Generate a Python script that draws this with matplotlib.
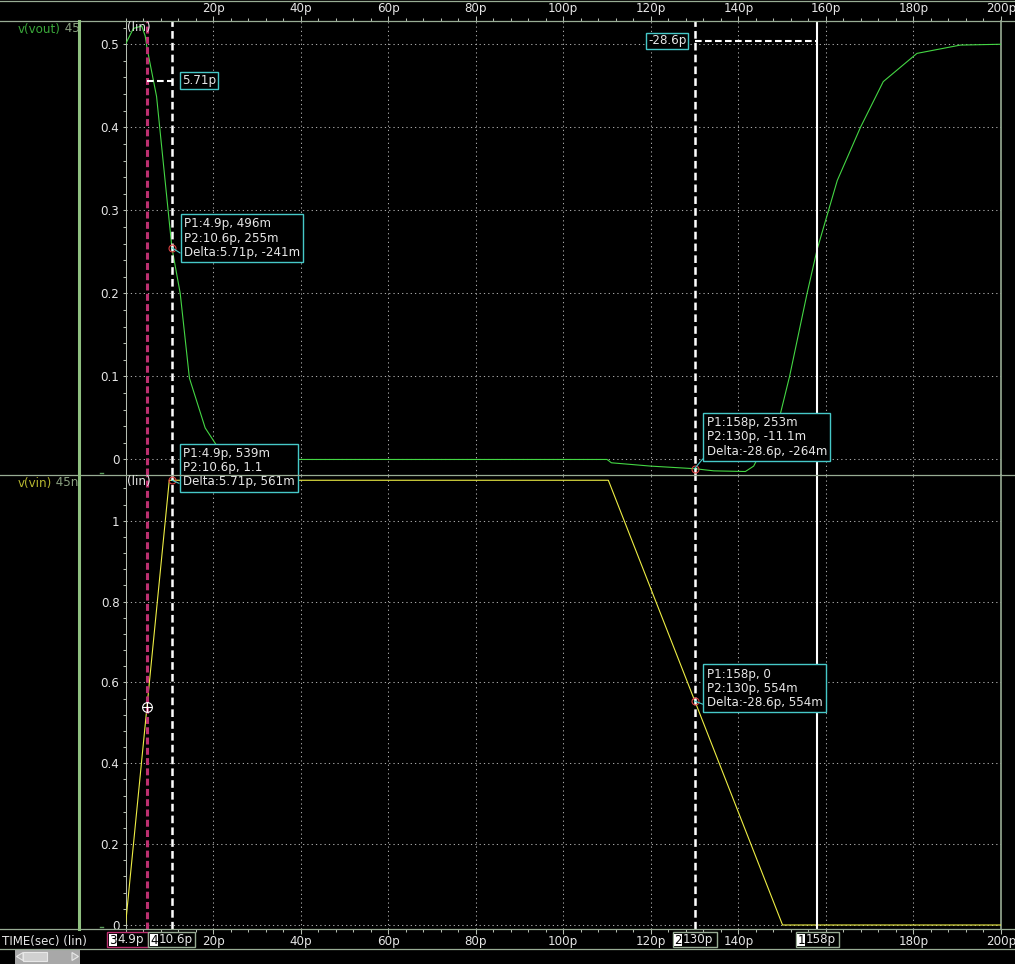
import matplotlib
matplotlib.use('Agg')
import matplotlib.pyplot as plt
from matplotlib.patches import Rectangle, Polygon
from matplotlib.ticker import FixedLocator, FixedFormatter, MultipleLocator

# waveforms (time in ps, volts)
vout_t = [0, 1.8, 3.7, 4.5, 4.9, 7.1, 10.6, 12.5, 14.6, 18.2, 20.8, 24, 110, 111, 120, 130,
          134.4, 141.6, 143.5, 149.6, 151.7, 155.7, 158, 162.6, 167.9, 173.1, 180.8, 190.7, 200]
vout_v = [0.5, 0.519, 0.522, 0.51, 0.496, 0.437, 0.255, 0.2, 0.098, 0.038, 0.017, 0.0, 0.0, -0.004, -0.008, -0.0111,
          -0.0137, -0.0145, -0.008, 0.055, 0.1, 0.2, 0.253, 0.336, 0.40, 0.455, 0.489, 0.499, 0.5]

vin_t = [0, 10, 110.3, 150.1, 200]
vin_v = [0, 1.1, 1.1, 0, 0]

time_ticks = [20, 40, 60, 80, 100, 120, 140, 160, 180, 200]
time_labels = ['20p', '40p', '60p', '80p', '100p', '120p', '140p', '160p', '180p', '200p']
# bottom row: 160p sits under the cursor 1 tag
time_labels_bot = ['20p', '40p', '60p', '80p', '100p', '120p', '140p', '', '180p', '200p']
vout_ticks = [0, 0.1, 0.2, 0.3, 0.4, 0.5]
vout_labels = ['0', '0.1', '0.2', '0.3', '0.4', '0.5']
vin_ticks = [0, 0.2, 0.4, 0.6, 0.8, 1]
vin_labels = ['0', '0.2', '0.4', '0.6', '0.8', '1']

# cursors
cursor_num = ['3', '4', '2', '1']
cursor_t = [4.9, 10.6, 130, 158]
cursor_text = ['4.9p', '10.6p', '130p', '158p']

# measurement readouts (P2 point, text)
vout_p2 = [(10.6, 0.255), (130, -0.0111)]
vout_read = ['P1:4.9p, 496m\nP2:10.6p, 255m\nDelta:5.71p, -241m',
             'P1:158p, 253m\nP2:130p, -11.1m\nDelta:-28.6p, -264m']
vin_p1 = (4.9, 0.539)
vin_p2 = [(10.6, 1.1), (130, 0.554)]
vin_read = ['P1:4.9p, 539m\nP2:10.6p, 1.1\nDelta:5.71p, 561m',
            'P1:158p, 0\nP2:130p, 554m\nDelta:-28.6p, 554m']
delta_text = ['5.71p', '-28.6p']

W, H = 1015, 964
BG = 'black'
TXT = '#e6e6e6'
GRID = '#a8a8a8'
FRAME = '#98ac94'
TICK = '#b4bcb0'
CYAN = '#46c8c8'
MAGENTA = '#bc3070'
GREEN = '#44d644'
YELLOW = '#eeee44'
RED = '#d84040'

plt.rcParams['font.family'] = 'DejaVu Sans'
plt.rcParams['font.size'] = 8.6
plt.rcParams['lines.scale_dashes'] = False

fig = plt.figure(figsize=(W / 100, H / 100), dpi=100, facecolor=BG)

X0, X1 = 125.5, 1001.0
ax_top = fig.add_axes([X0 / W, 1 - 475 / H, (X1 - X0) / W, (475 - 21) / H])
ax_bot = fig.add_axes([X0 / W, 1 - 929 / H, (X1 - X0) / W, (929 - 475) / H])


def style_axes(ax, ylim, xlabels, yticks, ylabels, yminor, top):
    ax.set_facecolor(BG)
    ax.set_xlim(0, 200)
    ax.set_ylim(*ylim)
    ax.xaxis.set_major_locator(FixedLocator(time_ticks))
    ax.xaxis.set_major_formatter(FixedFormatter(xlabels))
    ax.xaxis.set_minor_locator(MultipleLocator(4))
    ax.yaxis.set_major_locator(FixedLocator(yticks))
    ax.yaxis.set_major_formatter(FixedFormatter(ylabels))
    ax.yaxis.set_minor_locator(MultipleLocator(yminor))
    ax.spines['top'].set_visible(False)
    ax.spines['bottom'].set_visible(False)
    ax.spines['left'].set_color(TICK)
    ax.spines['left'].set_linewidth(0.75)
    ax.spines['right'].set_color(FRAME)
    ax.spines['right'].set_linewidth(1.2)
    ax.grid(True, which='major', color=GRID, linestyle=(0, (0.9, 2.2)), linewidth=0.75)
    ax.tick_params(axis='y', which='both', direction='out', length=2.2, width=0.75,
                   color=TICK, labelcolor=TXT, pad=2.2, labelsize=8.6)
    ax.tick_params(axis='x', which='major', length=3.6, width=0.75, color=TICK,
                   labelcolor=TXT, pad=0.5, labelsize=8.6)
    ax.tick_params(axis='x', which='minor', length=2.5, width=0.75, color=TICK)
    if top:
        ax.tick_params(axis='x', which='both', top=True, bottom=False,
                       labeltop=True, labelbottom=False)


style_axes(ax_top, (-0.0187, 0.528), time_labels, vout_ticks, vout_labels, 0.02, True)
style_axes(ax_bot, (-0.0099, 1.113), time_labels_bot, vin_ticks, vin_labels, 0.04, False)

ax_top.plot(vout_t, vout_v, color=GREEN, lw=0.8, zorder=3)
ax_bot.plot(vin_t, vin_v, color=YELLOW, lw=0.8, zorder=3)

# cursors through both panels
cursor_style = [dict(color=MAGENTA, lw=2.2, ls=(0, (5, 2.4))),
                dict(color='white', lw=1.8, ls=(0, (5.5, 3))),
                dict(color='white', lw=1.8, ls=(0, (5.5, 3))),
                dict(color='white', lw=1.5, ls='-')]
for ax in (ax_top, ax_bot):
    for t, st in zip(cursor_t, cursor_style):
        ax.axvline(t, zorder=4, **st)

# delta markers in the top panel
ax_top.plot([cursor_t[0], cursor_t[1]], [0.456, 0.456], color='white', lw=1.5,
            ls=(0, (4.8, 2.4)), zorder=4)
ax_top.plot([cursor_t[2], cursor_t[3]], [0.504, 0.504], color='white', lw=1.5,
            ls=(0, (4.8, 2.4)), zorder=4)
small_box = dict(boxstyle='square,pad=0.15', fc=BG, ec=CYAN, lw=1)
ax_top.annotate(delta_text[0], xy=(cursor_t[1], 0.456), xytext=(10, 0), textcoords='offset pixels',
                ha='left', va='center', color=TXT, bbox=small_box, zorder=6)
ax_top.annotate(delta_text[1], xy=(cursor_t[2], 0.504), xytext=(-8, 0), textcoords='offset pixels',
                ha='right', va='center', color=TXT, bbox=small_box, zorder=6)


def readout(ax, xy, text, off):
    ax.plot(*xy, marker='o', ms=5, mfc='none', mec=RED, mew=0.8, zorder=5, clip_on=False)
    ax.annotate(text, xy=xy, xytext=off, textcoords='offset pixels', ha='left', va='bottom',
                color=TXT, linespacing=1.12, zorder=6,
                bbox=dict(boxstyle='square,pad=0.28', fc=BG, ec=CYAN, lw=1),
                arrowprops=dict(arrowstyle='-', color=CYAN, lw=0.8, shrinkA=0, shrinkB=0,
                                relpos=(0, 0.08)))


readout(ax_top, vout_p2[0], vout_read[0], (12, -11))
readout(ax_top, vout_p2[1], vout_read[1], (12, 11))
readout(ax_bot, vin_p2[0], vin_read[0], (11, -8))
readout(ax_bot, vin_p2[1], vin_read[1], (12, -8))
ax_bot.plot(*vin_p1, marker='o', ms=7, mfc='none', mec='white', mew=0.8, zorder=5)
ax_bot.plot(*vin_p1, marker='+', ms=7, mec='white', mew=0.8, zorder=5)

# frame, labels and cursor tags drawn in pixel space
ov = fig.add_axes([0, 0, 1, 1], zorder=10)
ov.set_xlim(0, W)
ov.set_ylim(H, 0)
ov.axis('off')
ov.patch.set_alpha(0)

for y in (1, 21, 475, 929, 949):
    ov.plot([0, W], [y, y], color=FRAME, lw=0.9)
ov.plot([79, 79], [21, 929], color='#8fc080', lw=2.2)
ov.plot([100, 103], [473, 473], color='#5a9a5a', lw=1)
ov.plot([100, 103], [927, 927], color='#5a9a5a', lw=1)

name_clip = Rectangle((0, 0), 78, H, transform=ov.transData)
for y, name, unit, ncol in ((29, 'v(vout)', ' 45', '#3aa83a'), (483, 'v(vin)', ' 45n', '#b8b830')):
    t1 = ov.text(18, y, name, color=ncol, va='center', ha='left')
    t2 = ov.annotate(unit, xy=(1, 0), xycoords=t1, va='bottom', ha='left', color='#8aa080')
    t2.set_clip_path(name_clip)
    ov.text(127, y - 1, '(lin)', color=TXT, va='center', ha='left')

ov.text(2, 942, 'TIME(sec) (lin)', color=TXT, va='center', ha='left')

# cursor tags on the time axis
tag_w = [41, 47, 44, 43]
tag_edge = [MAGENTA, FRAME, FRAME, FRAME]
centers = [ax_bot.transData.transform((t, 0))[0] for t in cursor_t]
lefts = [c - w / 2 for c, w in zip(centers, tag_w)]
if lefts[0] + tag_w[0] > lefts[1]:
    lefts[0] = lefts[1] - tag_w[0]
for left, w, num, txt, ec in zip(lefts, tag_w, cursor_num, cursor_text, tag_edge):
    ov.add_patch(Rectangle((left, 932), w, 15, fc=BG, ec=ec, lw=1))
    ov.add_patch(Rectangle((left + 1.5, 933.5), 8, 12, fc='white', ec='none'))
    ov.text(left + 5.5, 940, num, color='black', ha='center', va='center')
    ov.text(left + 10, 940, txt, color=TXT, ha='left', va='center')

# scroll bar
ov.add_patch(Rectangle((15, 949.5), 65, 15, fc='#a8a8a8', ec='none'))
ov.add_patch(Rectangle((23, 952), 24, 9, fc='#d0d0d0', ec='#e8e8e8', lw=0.8))
ov.add_patch(Polygon([(23, 952.5), (16.5, 956.5), (23, 960.5)], closed=True, fc='#b8b8b8', ec='#e8e8e8', lw=0.8))
ov.add_patch(Polygon([(72, 952.5), (78.5, 956.5), (72, 960.5)], closed=True, fc='#b8b8b8', ec='#e8e8e8', lw=0.8))

fig.savefig('out.png', dpi=100, facecolor=BG)
